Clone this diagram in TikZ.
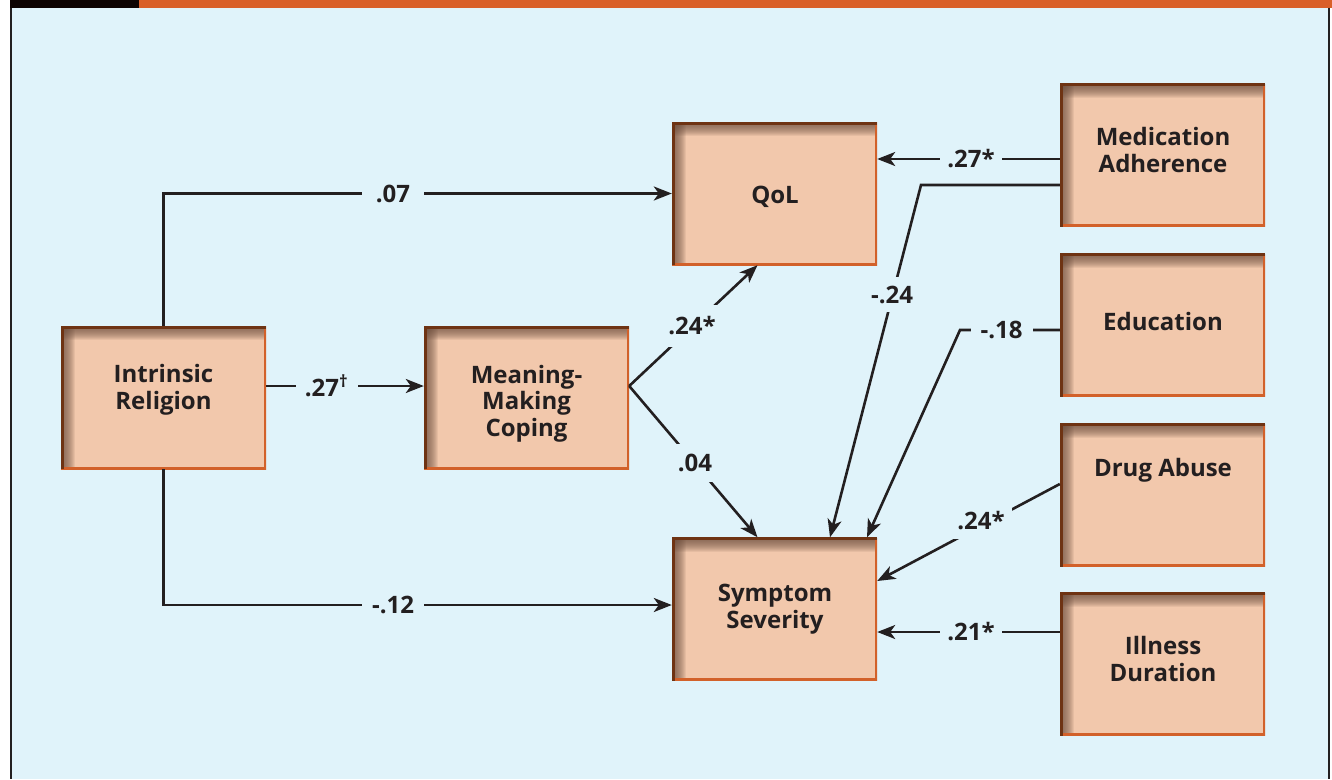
\documentclass[tikz,border=0pt]{standalone}
\usepackage{fontspec}
\setmainfont{Open Sans}
\usetikzlibrary{arrows.meta}
\definecolor{bg}{HTML}{E0F3FA}
\definecolor{boxfill}{HTML}{F2C8AC}
\definecolor{shadowc}{HTML}{6A4C3C}
\definecolor{bdark}{HTML}{6E3313}
\definecolor{blight}{HTML}{D2612A}
\definecolor{ink}{HTML}{231F20}
\definecolor{hdr}{HTML}{D95F28}
\definecolor{hdrblack}{HTML}{0D0402}
\newcommand{\dfont}{\fontsize{24}{26.5}\selectfont\bfseries}
\begin{document}
\begin{tikzpicture}[x=1pt,y=-1pt,
  box/.style={minimum width=205pt, minimum height=143pt, inner sep=0pt, fill=boxfill,
    path picture={
      \foreach \i in {1,...,14} {
        \fill[shadowc, opacity=0.09] (path picture bounding box.north west) rectangle ([yshift=-\i pt]path picture bounding box.north east);
        \fill[shadowc, opacity=0.09] (path picture bounding box.north west) rectangle ([xshift=\i pt]path picture bounding box.south west);
      }
      \draw[line width=5pt, blight] (path picture bounding box.north east) -- (path picture bounding box.south east) -- (path picture bounding box.south west);
      \draw[line width=5pt, bdark] (path picture bounding box.south west) -- (path picture bounding box.north west) -- (path picture bounding box.north east);
    }},
  txt/.style={font=\dfont, text=ink, align=center, inner sep=0pt},
  lab/.style={font=\dfont, text=ink, fill=bg, inner sep=0pt, minimum width=62pt, minimum height=25pt},
  arr/.style={draw=ink, line width=2.6pt, -{Stealth[length=18pt,width=14pt,inset=5pt]}}
]
\useasboundingbox (0,0) rectangle (1332,779);
% background and frame
\fill[white] (0,0) rectangle (1332,779);
\fill[bg] (10,7.5) rectangle (1330,779);
\fill[hdr] (139,0) rectangle (1332,7.5);
\fill[hdrblack] (10,0) rectangle (139,7.5);
\draw[ink, line width=2pt] (11,7.5) -- (11,779);
\draw[ink, line width=2pt] (1329,7.5) -- (1329,779);

% boxes
\node[box] (ir) at (163.5,397.5) {};
\node[box] (mmc) at (526.5,397.5) {};
\node[box] (qol) at (774.5,193.5) {};
\node[box] (ss) at (774.5,609) {};
\node[box] (med) at (1162.5,155) {};
\node[box] (edu) at (1162.5,325) {};
\node[box] (drug) at (1162.5,495) {};
\node[box] (ill) at (1162.5,664) {};

% texts
\node[txt] (irt) at (163.5,390) {Intrinsic\\Religion};
\node[txt] (mmct) at (526.5,403.5) {Meaning-\\Making\\Coping};
\node[txt] (qolt) at (775,197) {QoL};
\node[txt] (sst) at (775,609) {Symptom\\Severity};
\node[txt] (medt) at (1163,150) {Medication\\Adherence};
\node[txt] (edut) at (1163,321) {Education};
\node[txt] (drugt) at (1163,470.5) {Drug Abuse};
\node[txt] (illt) at (1163,659) {Illness\\Duration};

% connector end points
\coordinate (irE) at ([yshift=11.5pt]ir.east);
\coordinate (mmW) at ([yshift=11.5pt]mmc.west);
\coordinate (mmE) at ([yshift=11.5pt]mmc.east);
\coordinate (qS) at ([xshift=-17pt]qol.south);
\coordinate (sN1) at ([xshift=-17pt]ss.north);
\coordinate (sN2) at ([xshift=55.5pt]ss.north);
\coordinate (sN3) at ([xshift=92.5pt]ss.north);
\coordinate (sW) at ([yshift=4pt]ss.west);
\coordinate (sE1) at ([yshift=28pt]ss.east);
\coordinate (mW1) at ([yshift=-4pt]med.west);
\coordinate (mW2) at ([yshift=-30pt]med.west);
\coordinate (eW) at ([yshift=-5pt]edu.west);
\coordinate (dW) at ([yshift=11pt]drug.west);
\coordinate (iW) at ([yshift=32pt]ill.west);
\coordinate (b1) at (921,185);
\coordinate (b2) at (960,330);

% connectors
\draw[arr] (ir.north) |- (qol.west);
\draw[arr] (ir.south) |- (sW);
\draw[arr] (irE) -- (mmW);
\draw[arr] (mmE) -- (qS);
\draw[arr] (mmE) -- (sN1);
\draw[arr] (mW1) -- (mW1 -| qol.east);
\draw[arr] (mW2) -- (b1) -- (sN2);
\draw[arr] (eW) -- (b2) -- (sN3);
\draw[arr] (dW) -- (sE1);
\draw[arr] (iW) -- (iW -| ss.east);

% labels
\node[lab] (l1) at (393,193.5) {.07};
\node[lab] (l2) at (393,605) {-.12};
\node[lab] (l3) at (326.5,386) {.27\textsuperscript{†}};
\node[lab, minimum height=42pt] (l4) at (692,326) {.24*};
\node[lab, minimum height=38pt] (l5) at (695,463) {.04};
\node[lab] (l6) at (971,159) {.27*};
\node[lab, minimum height=35pt] (l7) at (892,294.5) {-.24};
\node[lab] (l8) at (1001.5,330) {-.18};
\node[lab, minimum height=35pt] (l9) at (981,521) {.24*};
\node[lab] (l10) at (971,632) {.21*};
\end{tikzpicture}
\end{document}
